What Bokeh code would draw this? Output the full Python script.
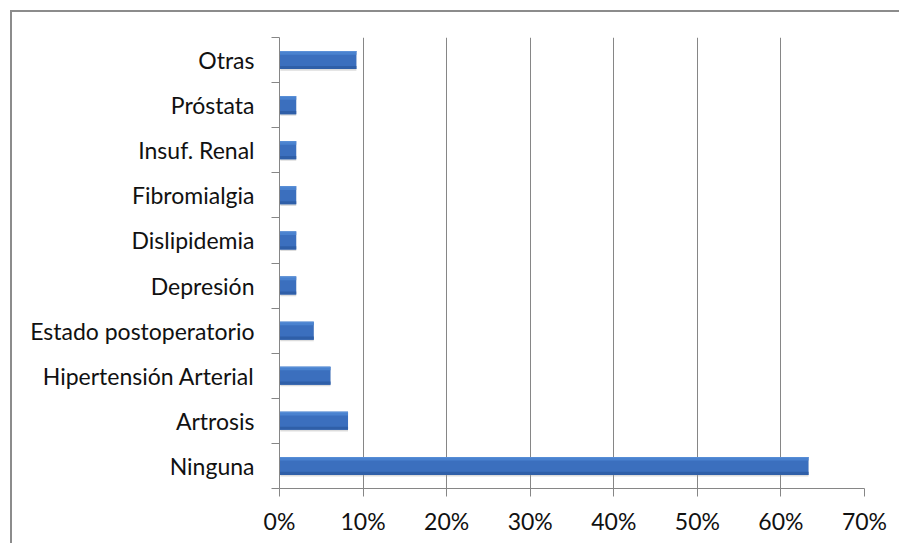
from bokeh.plotting import figure
from bokeh.models import Range1d, FixedTicker, NumeralTickFormatter, ColumnDataSource
from bokeh.transform import dodge
from bokeh.embed import file_html
from bokeh.resources import INLINE

categories = ["Ninguna", "Artrosis", "Hipertensión Arterial", "Estado postoperatorio",
              "Depresión", "Dislipidemia", "Fibromialgia", "Insuf. Renal", "Próstata", "Otras"]
values = [63.3, 8.2, 6.1, 4.1, 2.0, 2.0, 2.0, 2.0, 2.0, 9.2]
x_ticks = [0, 10, 20, 30, 40, 50, 60, 70]

positions = list(range(len(categories)))
src = ColumnDataSource(dict(y=positions, right=[v / 100 for v in values], name=categories))

FONT = "Lato"
GRAY = "#868686"
BAR_H = 0.4

p = figure(width=889, height=533, output_backend="svg", toolbar_location=None,
           x_range=Range1d(0, x_ticks[-1] / 100), y_range=Range1d(-0.5, len(categories) - 0.5),
           min_border_left=267, min_border_right=37, min_border_top=25, min_border_bottom=57)
p.styles = {"border-left": "2px solid #8c8c8c", "border-top": "2px solid #8c8c8c",
            "margin-left": "10px", "margin-top": "10px"}
p.outline_line_color = None
p.background_fill_color = "white"
p.border_fill_color = "white"

# soft shadow
p.hbar(y=dodge("y", -0.035, range=p.y_range), right="right", left=0.001, height=BAR_H, source=src,
       fill_color="#9a9a9a", fill_alpha=0.35, line_color=None)
# main bar with banded "gradient"
p.hbar(y="y", right="right", left=0, height=BAR_H, source=src,
       fill_color="#3b6fbe", line_color=None)
p.hbar(y=dodge("y", 0.16, range=p.y_range), right="right", left=0, height=0.08, source=src,
       fill_color="#4a82cf", line_color=None)
p.hbar(y=dodge("y", 0.19, range=p.y_range), right="right", left=0, height=0.02, source=src,
       fill_color="#5b90d8", line_color=None)
p.hbar(y=dodge("y", -0.165, range=p.y_range), right="right", left=0, height=0.07, source=src,
       fill_color="#2f5fa8", line_color=None)

# x axis
p.xaxis.ticker = FixedTicker(ticks=[t / 100 for t in x_ticks])
p.xaxis.formatter = NumeralTickFormatter(format="0%")
p.xaxis.axis_line_color = GRAY
p.xaxis.major_tick_line_color = GRAY
p.xaxis.major_tick_in = 0
p.xaxis.major_tick_out = 8
p.xaxis.minor_tick_line_color = None
p.xaxis.major_label_standoff = 10
p.xaxis.major_label_text_font = FONT
p.xaxis.major_label_text_font_size = "23px"
p.xaxis.major_label_text_color = "#111111"

# y axis
p.yaxis.ticker = FixedTicker(ticks=positions, minor_ticks=[i - 0.5 for i in range(len(categories) + 1)])
p.yaxis.major_label_overrides = {i: c for i, c in zip(positions, categories)}
p.yaxis.axis_line_color = GRAY
p.yaxis.major_tick_line_color = None
p.yaxis.major_tick_in = 0
p.yaxis.major_tick_out = 8
p.yaxis.minor_tick_line_color = GRAY
p.yaxis.minor_tick_in = 0
p.yaxis.minor_tick_out = 8
p.yaxis.major_label_standoff = 17
p.yaxis.major_label_text_font = FONT
p.yaxis.major_label_text_font_size = "23px"
p.yaxis.major_label_text_color = "#111111"

# grid
p.xgrid.ticker = FixedTicker(ticks=[t / 100 for t in x_ticks])
p.xgrid.grid_line_color = GRAY
p.ygrid.visible = False

open("out.html", "w").write(file_html(p, INLINE))
